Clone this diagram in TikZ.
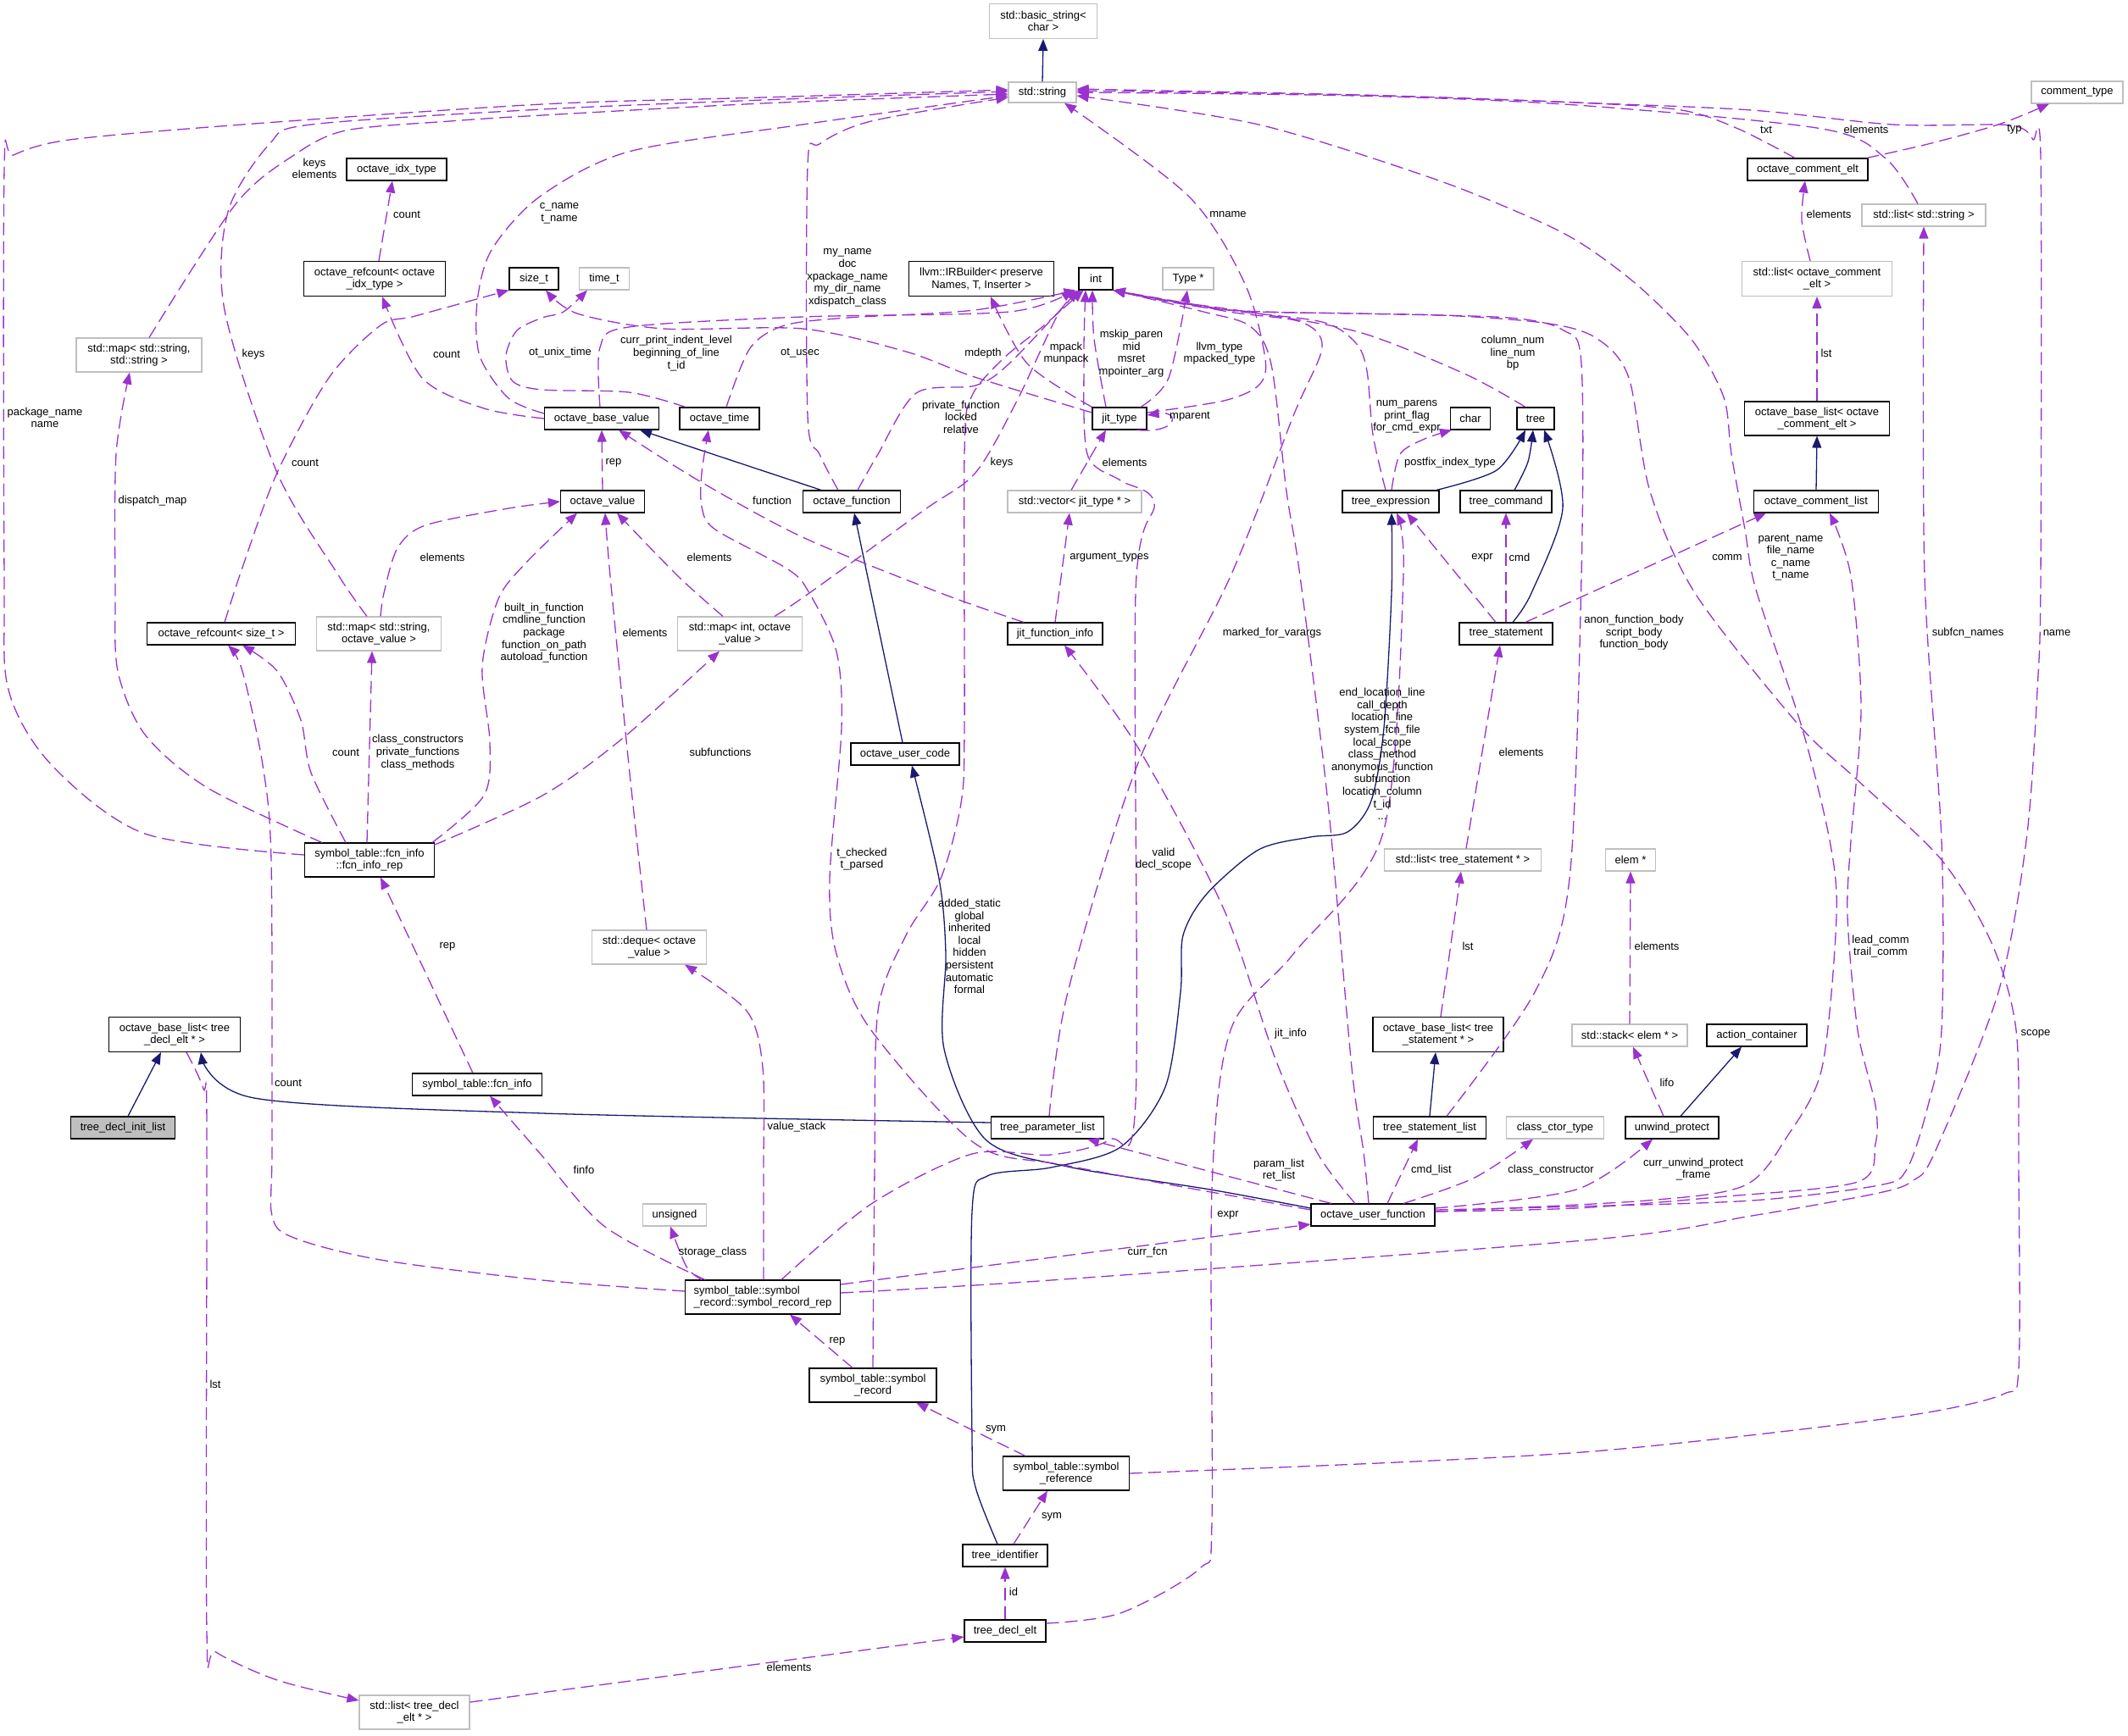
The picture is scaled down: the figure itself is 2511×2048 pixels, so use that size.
\documentclass[tikz,border=0pt]{standalone}
\usepackage{fontspec}
\setmainfont{Liberation Sans}
\usetikzlibrary{arrows.meta}
\definecolor{depc}{RGB}{154,50,205}
\definecolor{inhc}{RGB}{25,25,112}
\definecolor{gbd}{RGB}{191,191,191}
\tikzset{
  cls/.style={draw=black, line width=1.1pt, fill=white, inner sep=2pt, align=center, minimum height=26pt, font=\fontsize{13}{14.5}\selectfont},
  ext/.style={cls, draw=gbd},
  lbl/.style={inner sep=0pt, align=center, font=\fontsize{13}{14.6}\selectfont},
  depl/.style={draw=depc, line width=1.3pt, dash pattern=on 15pt off 7pt, -{Triangle[length=14pt,width=11pt]}, fill=none},
  inhl/.style={draw=inhc, line width=1.3pt, -{Triangle[length=14pt,width=11pt]}},
  sm/.style={smooth, tension=0.5}
}
\begin{document}
\begin{tikzpicture}[x=1pt,y=-1pt]
\useasboundingbox (0,0) rectangle (2511,2048);
% ---------- nodes
\node[ext,minimum width=127pt,minimum height=41pt] (bstr) at (1231,25) {std::basic\_string<\\char >};
\node[ext,minimum width=80pt,minimum height=24pt] (str) at (1230,109) {std::string};
\node[ext,minimum width=108pt] (ctype) at (2451,109) {comment\_type};
\node[cls,minimum width=118pt] (idx) at (468,200) {octave\_idx\_type};
\node[cls,minimum width=142pt] (celt) at (2133,200) {octave\_comment\_elt};
\node[ext,minimum width=146pt] (lstr) at (2270,254) {std::list< std::string >};
\node[cls,minimum width=167pt,minimum height=41pt] (rcidx) at (442,329) {octave\_refcount< octave\\\_idx\_type >};
\node[cls,minimum width=58pt] (sizet) at (630,329) {size\_t};
\node[ext,minimum width=59pt] (timet) at (713,329) {time\_t};
\node[cls,minimum width=171pt,minimum height=41pt] (irb) at (1158,329) {llvm::IRBuilder< preserve\\Names, T, Inserter >};
\node[cls,minimum width=40pt] (int) at (1293,329) {int};
\node[ext,minimum width=60pt] (type) at (1402,329) {Type *};
\node[ext,minimum width=177pt,minimum height=41pt] (lcelt) at (2144,329) {std::list< octave\_comment\\\_elt >};
\node[ext,minimum width=148pt,minimum height=40pt] (mapss) at (164,419) {std::map< std::string,\\std::string >};
\node[cls,minimum width=135pt] (obv) at (710,494) {octave\_base\_value};
\node[cls,minimum width=94pt] (otime) at (849,494) {octave\_time};
\node[cls,minimum width=64pt] (jtype) at (1321,494) {jit\_type};
\node[cls,minimum width=47pt] (char) at (1735,494) {char};
\node[cls,minimum width=44pt] (tree) at (1812,494) {tree};
\node[cls,minimum width=171pt,minimum height=40pt] (oblc) at (2144,494) {octave\_base\_list< octave\\\_comment\_elt >};
\node[cls,minimum width=99pt] (oval) at (711,592) {octave\_value};
\node[cls,minimum width=115pt] (ofcn) at (1005,592) {octave\_function};
\node[ext,minimum width=158pt] (vjt) at (1268,592) {std::vector< jit\_type * >};
\node[cls,minimum width=114pt] (texpr) at (1641,592) {tree\_expression};
\node[cls,minimum width=108pt] (tcmd) at (1777,592) {tree\_command};
\node[cls,minimum width=147pt] (ocl) at (2143,592) {octave\_comment\_list};
\node[cls,minimum width=175pt] (rcs) at (261,748) {octave\_refcount< size\_t >};
\node[ext,minimum width=147pt,minimum height=40pt] (mapsv) at (447,748) {std::map< std::string,\\octave\_value >};
\node[ext,minimum width=147pt,minimum height=40pt] (mapiv) at (873,748) {std::map< int, octave\\\_value >};
\node[cls,minimum width=112pt] (jfi) at (1245,748) {jit\_function\_info};
\node[cls,minimum width=110pt] (tstmt) at (1777,748) {tree\_statement};
\node[cls,minimum width=128pt] (ouc) at (1068,890) {octave\_user\_code};
\node[cls,minimum width=153pt,minimum height=40pt] (fir) at (436,1015) {symbol\_table::fcn\_info\\::fcn\_info\_rep};
\node[ext,minimum width=185pt] (lts) at (1726,1015) {std::list< tree\_statement * >};
\node[ext,minimum width=59pt] (elem) at (1924,1015) {elem *};
\node[ext,minimum width=135pt,minimum height=40pt] (deq) at (766,1118) {std::deque< octave\\\_value >};
\node[cls,minimum width=155pt,minimum height=41pt] (oblt) at (206,1221) {octave\_base\_list< tree\\\_decl\_elt * >};
\node[cls,minimum width=154pt,minimum height=41pt] (oblts) at (1697,1221) {octave\_base\_list< tree\\\_statement * >};
\node[ext,minimum width=136pt] (stack) at (1923,1222) {std::stack< elem * >};
\node[cls,minimum width=118pt] (actc) at (2073,1222) {action\_container};
\node[cls,minimum width=153pt] (fi) at (563,1280) {symbol\_table::fcn\_info};
\node[cls,fill=gbd,minimum width=123pt] (tdil) at (145,1331) {tree\_decl\_init\_list};
\node[cls,minimum width=133pt] (tpl) at (1236,1331) {tree\_parameter\_list};
\node[cls,minimum width=133pt] (tsl) at (1687,1331) {tree\_statement\_list};
\node[ext,minimum width=115pt] (cct) at (1835,1331) {class\_ctor\_type};
\node[cls,minimum width=110pt] (uwp) at (1973,1331) {unwind\_protect};
\node[ext,minimum width=75pt] (uns) at (796,1434) {unsigned};
\node[cls,minimum width=146pt] (ouf) at (1620,1434) {octave\_user\_function};
\node[cls,minimum width=183pt,minimum height=40pt,align=left] (srr) at (900,1531) {symbol\_table::symbol\\\_record::symbol\_record\_rep};
\node[cls,minimum width=150pt,minimum height=40pt] (sr) at (1030,1635) {symbol\_table::symbol\\\_record};
\node[cls,minimum width=149pt,minimum height=40pt] (sref) at (1258,1739) {symbol\_table::symbol\\\_reference};
\node[cls,minimum width=100pt] (tid) at (1186,1836) {tree\_identifier};
\node[cls,minimum width=96pt] (tde) at (1186,1925) {tree\_decl\_elt};
\node[ext,minimum width=130pt,minimum height=40pt] (ltde) at (489,2021) {std::list< tree\_decl\\\_elt * >};
% ---------- inheritance
\draw[inhl] (str.north) -- (bstr.south);
\draw[inhl] ([xshift=6pt]tdil.north) -- ([xshift=-16pt]oblt.south);
\draw[inhl] plot[sm] coordinates {([yshift=6pt]tpl.west) (640,1314) (300,1296) ([xshift=31pt]oblt.south)};
\draw[inhl] ([xshift=-36pt]ofcn.north) -- ([xshift=45pt]obv.south);
\draw[inhl] ([xshift=-3pt]ouc.north) -- ([xshift=3pt]ofcn.south);
\draw[inhl] plot[sm] coordinates {([yshift=8pt]ouf.west) (1428,1404) (1260,1377) (1163,1345) (1114,1238) (1116,1126) (1108,1037) ([xshift=8pt]ouc.south)};
\draw[inhl] plot[sm] coordinates {([xshift=54pt]texpr.north) (1766,555) ([xshift=-12pt]tree.south)};
\draw[inhl] plot[sm] coordinates {([xshift=10pt]tcmd.north) (1803,545) ([xshift=-3pt]tree.south)};
\draw[inhl] plot[sm] coordinates {([xshift=8pt]tstmt.north) (1807,700) (1844,600) ([xshift=10pt]tree.south)};
\draw[inhl] plot[sm] coordinates {([xshift=-9pt]tid.north) (1151,1755) (1147,1700) (1147,1430) (1165,1388) (1240,1378) (1322,1354) (1375,1283) (1393,1171) (1396,1104) (1424,1055) (1485,1003) (1546,988) (1590,982) (1618,945) (1633,859) (1642,700) ([xshift=1pt]texpr.south)};
\draw[inhl] (ocl.north) -- (oblc.south);
\draw[inhl] (tsl.north) -- ([xshift=-3pt]oblts.south);
\draw[inhl] ([xshift=10pt]uwp.north) -- ([xshift=-18pt]actc.south);
% ---------- to std::string
\draw[depl] plot[sm] coordinates {([xshift=12pt]mapss.north) (278,241) (347,183) (408,154) (531,143) (640,136) (900,122) ([yshift=-2pt]str.west)};
\draw[depl] plot[sm] coordinates {([xshift=-14pt]mapsv.north) (400,680) (327,558) (265,366) (269,250) (318,170) (367,147) (640,129) (900,118) ([yshift=1pt]str.west)};
\draw[depl] plot[sm] coordinates {([yshift=6pt]fir.west) (171,984) (61,903) (10,814) (5,680) (5,200) (16,183) (82,165) (286,147) (640,123) (900,115) ([yshift=3pt]str.west)};
\draw[depl] plot[sm] coordinates {([yshift=6pt]obv.west) (600,470) (566,420) (563,357) (580,295) (637,232) (742,179) (947,147) ([yshift=-4pt]str.west)};
\draw[depl] plot[sm] coordinates {([xshift=-16pt]ofcn.north) (967,536) (953,491) (953,196) (967,170) (1028,143) ([yshift=-6pt]str.west)};
\draw[depl] plot[sm] coordinates {([yshift=7pt]jtype.east) (1444,473) (1485,455) (1493,424) (1469,335) (1403,232) ([xshift=26pt]str.south)};
\draw[depl] ([xshift=-12pt]jtype.south east) .. controls (1392,512) and (1392,484) .. ([yshift=4pt]jtype.east);
\draw[depl] plot[sm] coordinates {([xshift=-15pt]celt.north) (2051,152) (1984,130) (1860,121) (1600,112) ([yshift=2pt]str.east)};
\draw[depl] plot[sm] coordinates {([xshift=-7pt]lstr.north) (2225,187) (2150,152) (1860,124) (1600,113) (str.east)};
\draw[depl] plot[sm] coordinates {([yshift=4pt]ouf.east) (1943,1417) (2059,1399) (2109,1341) (2150,1260) (2167,1082) (2159,992) (2126,858) (2072,696) (2059,625) (2043,536) (2034,469) (1997,402) (1935,339) (1870,290) (1811,259) (1689,210) (1485,147) ([yshift=-4pt]str.east)};
\draw[depl] plot[sm] coordinates {([yshift=5pt]srr.east) (1240,1511) (1880,1463) (2067,1435) (2217,1408) (2258,1393) (2283,1360) (2358,1171) (2391,992) (2404,814) (2408,680) (2408,187) (2399,165) (2387,152) (2358,147) (2233,147) (2067,130) (1860,121) (1600,112) ([yshift=4pt]str.east)};
% ---------- misc upper
\draw[depl] ([xshift=5pt]rcidx.north) -- ([xshift=-5pt]idx.south);
\draw[depl] plot[sm] coordinates {(obv.west) (571,482) (498,446) ([xshift=9pt]rcidx.south)};
\draw[depl] plot[sm] coordinates {([xshift=4pt]rcs.north) (286,670) (327,558) (388,446) (449,384) (490,373) (sizet.south west)};
\draw[depl] plot[sm] coordinates {([yshift=7pt]jtype.west) (1150,445) (1069,415) (947,388) (783,388) (681,370) ([xshift=14pt]sizet.south)};
\draw[depl] plot[sm] coordinates {([xshift=-40pt]otime.north) (742,463) (640,460) (605,450) (597,420) (610,390) (640,375) (665,368) ([xshift=-20pt]timet.south)};
\draw[depl] plot[sm] coordinates {([xshift=-56pt]fir.north) (245,930) (171,867) (139,792) (136,700) (137,536) ([xshift=-11pt]mapss.south)};
% ---------- to int
\draw[depl] plot[sm] coordinates {([xshift=-2pt]obv.north) (708,410) (742,386) (947,374) (1191,368) ([xshift=-6pt]int.south west)};
\draw[depl] plot[sm] coordinates {([xshift=8pt]otime.north) (885,411) (926,384) (1000,375) (1150,366) ([xshift=-3pt]int.south west)};
\draw[depl] plot[sm] coordinates {([xshift=7pt]ofcn.north) (1036,536) (1081,464) (1151,455) (1191,429) (int.south west)};
\draw[depl] plot[sm] coordinates {([xshift=41pt]mapiv.north) (955,700) (1089,603) (1151,558) (1200,473) (1249,370) ([xshift=3pt]int.south west)};
\draw[depl] plot[sm] coordinates {([xshift=-16pt]jtype.north) (1291,400) ([xshift=-4pt]int.south)};
\draw[depl] plot[sm] coordinates {(jtype.north west) (1212,429) ([xshift=11pt]irb.south)};
\draw[depl] plot[sm] coordinates {([xshift=25pt]jtype.north) (1379,446) ([xshift=-1pt]type.south)};
\draw[depl] plot[sm] coordinates {([xshift=-12pt]tree.north) (1730,442) (1607,393) (1485,370) (1380,355) (int.south east)};
\draw[depl] plot[sm] coordinates {([xshift=-6pt]texpr.north) (1620,513) (1613,438) (1600,405) (1560,380) (1450,366) (int.south east)};
\draw[depl] plot[sm] coordinates {([xshift=-5pt]ouf.north) (1609,1360) (1595,1260) (1567,948) (1534,680) (1518,580) (1500,430) (1475,385) (1420,368) (int.south east)};
\draw[depl] plot[sm] coordinates {([xshift=20pt]tsl.north) (1811,1171) (1852,1037) (1866,680) (1866,430) (1845,390) (1780,375) (1600,370) (1450,366) (int.south east)};
\draw[depl] plot[sm] coordinates {([xshift=2pt]tpl.north) (1260,1171) (1342,903) (1452,680) (1526,491) (1560,410) (1535,380) (1450,368) (int.south east)};
\draw[depl] plot[sm] coordinates {([xshift=22pt]srr.north) (1028,1421) (1147,1362) (1240,1363) (1310,1345) (1340,1300) (1340,700) (1362,594) (1322,567) (1283,536) (1279,420) ([xshift=-12pt]int.south)};
\draw[depl] plot[sm] coordinates {(sr.north) (1032,1380) (1036,1193) (1069,1104) (1110,1037) (1134,948) (1138,859) (1138,536) (1146,469) (1183,424) (1232,384) ([xshift=6pt]int.south west)};
\draw[depl] plot[sm] coordinates {(sref.east) (1648,1726) (1880,1713) (2109,1689) (2275,1667) (2365,1645) (2382,1615) (2382,1380) (2379,1216) (2350,1113) (2291,1015) (2192,921) (2121,854) (2000,700) (1947,580) (1922,446) (1885,400) (1828,382) (1700,372) (1450,366) (int.south east)};
% ---------- octave_value area
\draw[depl] (oval.north) -- (obv.south);
\draw[depl] plot[sm] coordinates {([xshift=-37pt]jfi.north) (1110,700) (947,634) (824,567) ([xshift=20pt]obv.south)};
\draw[depl] plot[sm] coordinates {([yshift=6pt]ouf.west) (1260,1376) (1151,1350) (1028,1216) (987,1126) (979,1037) (993,859) (987,769) (955,700) (930,672) (844,625) (828,598) (828,558) ([xshift=-13pt]otime.south)};
\draw[depl] plot[sm] coordinates {([xshift=2pt]mapsv.north) (453,700) (469,647) (502,620) (600,600) (oval.west)};
\draw[depl] plot[sm] coordinates {([xshift=-3pt]fir.north east) (571,939) (578,876) (569,787) (588,707) (620,665) ([xshift=-30pt]oval.south)};
\draw[depl] plot[sm] coordinates {([xshift=-3pt]deq.north) (742,903) (720,680) ([xshift=3pt]oval.south)};
\draw[depl] plot[sm] coordinates {([xshift=-20pt]mapiv.north) (800,680) ([xshift=17pt]oval.south)};
\draw[depl] plot[sm] coordinates {([xshift=-1pt,yshift=-3pt]fir.north east) (640,939) (734,872) ([xshift=-24pt]mapiv.south)};
\draw[depl] ([xshift=-3pt]fir.north) -- ([xshift=-8pt]mapsv.south);
\draw[depl] plot[sm] coordinates {([xshift=-28pt]fir.north) (367,912) (355,850) (327,792) ([xshift=25pt]rcs.south)};
\draw[depl] plot[sm] coordinates {([yshift=7pt]srr.west) (640,1511) (449,1487) (347,1461) (321,1435) (321,1350) (320,1015) (310,903) (286,792) ([xshift=8pt]rcs.south)};
\draw[depl] ([xshift=-5pt]fi.north) -- ([xshift=13pt]fir.south);
\draw[depl] plot[sm] coordinates {([xshift=-68pt]srr.north) (714,1448) (636,1360) ([xshift=15pt]fi.south)};
\draw[depl] plot[sm] coordinates {([xshift=1pt]srr.north) (901,1380) (900,1260) (881,1193) ([xshift=42pt]deq.south)};
\draw[depl] plot[sm] coordinates {([xshift=-72pt]srr.north) (810,1495) ([xshift=-5pt]uns.south)};
\draw[depl] ([yshift=15pt]srr.east) -- ([yshift=-11pt]ouf.west);
\draw[depl] ([xshift=-24pt]sr.north) -- ([xshift=32pt]srr.south);
\draw[depl] ([xshift=-48pt]sref.north) -- ([xshift=51pt]sr.south);
\draw[depl] ([xshift=10pt]tid.north) -- ([xshift=-22pt]sref.south);
\draw[depl] (tde.north) -- (tid.south);
\draw[depl] ([yshift=12pt]ltde.east) -- ([yshift=-7pt]tde.west);
\draw[depl] plot[sm] coordinates {([xshift=14pt]oblt.south) (240,1285) (244,1330) (244,1925) (255,1950) (327,1983) ([yshift=14pt]ltde.west)};
\draw[depl] plot[sm] coordinates {([yshift=9pt]tde.east) (1322,1904) (1416,1851) (1430,1798) (1430,1404) (1452,1216) (1526,1126) (1632,983) (1656,680) ([xshift=7pt]texpr.south)};
% ---------- tree area
\draw[depl] ([xshift=3pt]oblts.north) -- ([xshift=-2pt]lts.south);
\draw[depl] ([xshift=4pt]lts.north) -- ([xshift=-7pt]tstmt.south);
\draw[depl] ([xshift=-12pt]tstmt.north) -- ([xshift=19pt]texpr.south);
\draw[depl] (tstmt.north) -- (tcmd.south);
\draw[depl] ([xshift=23pt]tstmt.north) -- ([xshift=-59pt]ocl.south);
\draw[depl] plot[sm] coordinates {([xshift=1pt]texpr.north) (1652,536) (1681,518) ([xshift=-22pt]char.south)};
\draw[depl] ([xshift=-4pt]vjt.north) -- ([xshift=-16pt]jtype.south);
\draw[depl] (jfi.north) -- ([xshift=-6pt]vjt.south);
\draw[depl] plot[sm] coordinates {([xshift=-8pt]lcelt.north) (2126,260) ([xshift=-3pt]celt.south)};
\draw[depl] (oblc.north) -- (lcelt.south);
\draw[depl] plot[sm] coordinates {([xshift=-2pt]celt.north east) (2275,170) (2358,147) ([xshift=-33pt]ctype.south)};
\draw[depl] plot[sm] coordinates {([yshift=6pt]ouf.east) (1860,1424) (2067,1417) (2217,1399) (2250,1380) (2275,1305) (2291,1216) (2291,992) (2271,680) (lstr.south)};
\draw[depl] plot[sm] coordinates {([yshift=4pt]ouf.east) (1860,1426) (2026,1413) (2192,1395) (2213,1350) (2213,1305) (2192,1216) (2180,1082) (2184,992) (2196,836) (2184,680) ([xshift=16pt]ocl.south)};
\draw[depl] plot[sm] coordinates {([yshift=8pt]ouf.east) (1860,1404) ([xshift=-23pt]uwp.south)};
\draw[depl] ([xshift=-10pt]uwp.north) -- ([xshift=4pt]stack.south);
\draw[depl] (stack.north) -- (elem.south);
\draw[depl] plot[sm] coordinates {([xshift=36pt]ouf.north) (1740,1390) ([xshift=-26pt]cct.south)};
\draw[depl] ([xshift=17pt]ouf.north) -- ([xshift=-14pt]tsl.south);
\draw[depl] ([xshift=-49pt]ouf.north) -- ([xshift=47pt]tpl.south);
\draw[depl] plot[sm] coordinates {([xshift=-21pt]ouf.north) (1554,1360) (1505,1250) (1444,1073) (1342,881) ([xshift=11pt]jfi.south)};
% ---------- labels
\node[lbl] (l1) at (371,199) {keys\\elements};
\node[lbl] (l2) at (480,253) {count};
\node[lbl] (l3) at (299,418) {keys};
\node[lbl] (l4) at (527,418) {count};
\node[lbl] (l5) at (53,493) {package\_name\\name};
\node[lbl] (l6) at (180,591) {dispatch\_map};
\node[lbl] (l7) at (360,546) {count};
\node[lbl] (l8) at (522,658) {elements};
\node[lbl] (l9) at (660,252) {c\_name\\t\_name};
\node[lbl] (l10) at (1000,328) {my\_name\\doc\\xpackage\_name\\my\_dir\_name\\xdispatch\_class};
\node[lbl] (l11) at (798,417) {curr\_print\_indent\_level\\beginning\_of\_line\\t\_id};
\node[lbl] (l12) at (661,416) {ot\_unix\_time};
\node[lbl] (l13) at (944,417) {ot\_usec};
\node[lbl] (l14) at (1160,417) {mdepth};
\node[lbl] (l15) at (1258,417) {mpack\\munpack};
\node[lbl] (l16) at (1134,492) {private\_function\\locked\\relative};
\node[lbl] (l17) at (1182,546) {keys};
\node[lbl] (l18) at (724,546) {rep};
\node[lbl] (l19) at (911,591) {function};
\node[lbl] (l20) at (837,658) {elements};
\node[lbl] (l21) at (1449,253) {mname};
\node[lbl] (l22) at (1335,417) {mskip\_paren\\mid\\msret\\mpointer\_arg};
\node[lbl] (l23) at (1439,417) {llvm\_type\\mpacked\_type};
\node[lbl] (l24) at (1404,492) {mparent};
\node[lbl] (l25) at (1785,417) {column\_num\\line\_num\\bp};
\node[lbl] (l26) at (1660,492) {num\_parens\\print\_flag\\for\_cmd\_expr};
\node[lbl] (l27) at (1711,546) {postfix\_index\_type};
\node[lbl] (l28) at (1327,546) {elements};
\node[lbl] (l29) at (1309,658) {argument\_types};
\node[lbl] (l30) at (1749,658) {expr};
\node[lbl] (l31) at (1793,658) {cmd};
\node[lbl] (l32) at (2084,153) {txt};
\node[lbl] (l33) at (2202,153) {elements};
\node[lbl] (l34) at (2377,153) {typ};
\node[lbl] (l35) at (2158,253) {elements};
\node[lbl] (l36) at (2155,417) {lst};
\node[lbl] (l37) at (2038,658) {comm};
\node[lbl] (l38) at (2113,658) {parent\_name\\file\_name\\c\_name\\t\_name};
\node[lbl] (l39) at (408,888) {count};
\node[lbl] (l40) at (493,888) {class\_constructors\\private\_functions\\class\_methods};
\node[lbl] (l41) at (642,747) {built\_in\_function\\cmdline\_function\\package\\function\_on\_path\\autoload\_function};
\node[lbl] (l42) at (528,1117) {rep};
\node[lbl] (l43) at (340,1278) {count};
\node[lbl] (l44) at (761,747) {elements};
\node[lbl] (l45) at (850,888) {subfunctions};
\node[lbl] (l46) at (1017,1014) {t\_checked\\t\_parsed};
\node[lbl] (l47) at (1144,1117) {added\_static\\global\\inherited\\local\\hidden\\persistent\\automatic\\formal};
\node[lbl] (l48) at (940,1330) {value\_stack};
\node[lbl] (l49) at (1501,747) {marked\_for\_varargs};
\node[lbl] (l50) at (1631,890) {end\_location\_line\\call\_depth\\location\_line\\system\_fcn\_file\\local\_scope\\class\_method\\anonymous\_function\\subfunction\\location\_column\\t\_id\\...};
\node[lbl] (l51) at (1373,1014) {valid\\decl\_scope};
\node[lbl] (l52) at (1795,888) {elements};
\node[lbl] (l53) at (1732,1117) {lst};
\node[lbl] (l54) at (1523,1220) {jit\_info};
\node[lbl] (l55) at (1928,747) {anon\_function\_body\\script\_body\\function\_body};
\node[lbl] (l56) at (2322,747) {subfcn\_names};
\node[lbl] (l57) at (2427,747) {name};
\node[lbl] (l58) at (1955,1117) {elements};
\node[lbl] (l59) at (2219,1117) {lead\_comm\\trail\_comm};
\node[lbl] (l60) at (2402,1220) {scope};
\node[lbl] (l61) at (1967,1278) {lifo};
\node[lbl] (l62) at (1998,1380) {curr\_unwind\_protect\\\_frame};
\node[lbl] (l63) at (254,1634) {lst};
\node[lbl] (l64) at (689,1381) {finfo};
\node[lbl] (l65) at (841,1478) {storage\_class};
\node[lbl] (l66) at (988,1583) {rep};
\node[lbl] (l67) at (1175,1687) {sym};
\node[lbl] (l68) at (1241,1790) {sym};
\node[lbl] (l69) at (1196,1879) {id};
\node[lbl] (l70) at (931,1968) {elements};
\node[lbl] (l71) at (1509,1381) {param\_list\\ret\_list};
\node[lbl] (l72) at (1689,1381) {cmd\_list};
\node[lbl] (l73) at (1830,1381) {class\_constructor};
\node[lbl] (l74) at (1449,1434) {expr};
\node[lbl] (l75) at (1354,1478) {curr\_fcn};
\end{tikzpicture}
\end{document}
